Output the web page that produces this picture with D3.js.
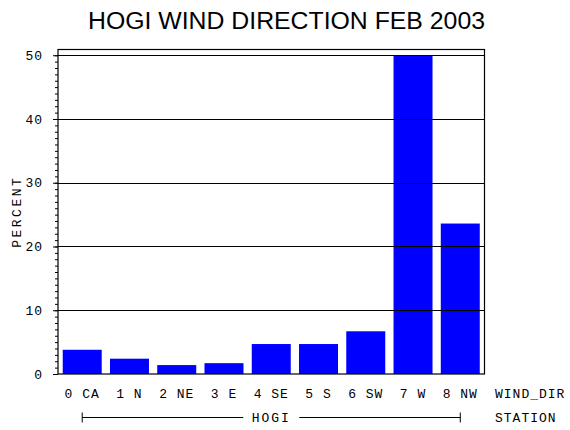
<!DOCTYPE html>
<html>
<head>
<meta charset="utf-8">
<script src="https://cdn.jsdelivr.net/npm/d3@7"></script>
<style>
  body { margin: 0; background: #fff; }
  text { font-family: "Liberation Mono", "DejaVu Sans Mono", monospace; font-size: 13px; fill: #000; }
</style>
</head>
<body>
<div id="chart"></div>
<script>
// data
const directions = ["0 CA", "1 N", "2 NE", "3 E", "4 SE", "5 S", "6 SW", "7 W", "8 NW"];
const percents = [3.8, 2.4, 1.4, 1.7, 4.7, 4.7, 6.7, 50.0, 23.6];
const yTicks = [0, 10, 20, 30, 40, 50];
const minorTicks = d3.range(0, 51, 1);
const station = "HOGI";

const width = 570;
const height = 430;
const plotLeft = 58, plotRight = 484.5, plotTop = 49.5, plotBottom = 374;

const svg = d3.select("#chart").append("svg")
  .attr("width", width)
  .attr("height", height)
  .style("display", "block");

// scales
const x = d3.scaleBand()
  .domain(directions)
  .range([plotLeft, plotRight])
  .paddingInner(0.175)
  .paddingOuter(0.1);

const y = d3.scaleLinear()
  .domain([0, 50.9])
  .range([plotBottom, plotTop]);

// bars
svg.append("g")
  .selectAll("rect")
  .data(percents)
  .enter()
  .append("rect")
  .attr("x", (d, i) => x(directions[i]))
  .attr("width", x.bandwidth())
  .attr("y", d => y(d))
  .attr("height", d => plotBottom - y(d))
  .attr("fill", "#0000ff");

// grid lines, drawn over the bars
svg.append("g")
  .selectAll("line")
  .data(yTicks.filter(d => d > 0))
  .enter()
  .append("line")
  .attr("x1", plotLeft).attr("x2", plotRight)
  .attr("y1", d => Math.round(y(d)) + 0.5)
  .attr("y2", d => Math.round(y(d)) + 0.5)
  .attr("stroke", "#000")
  .attr("stroke-width", 1);

// frame
svg.append("rect")
  .attr("x", plotLeft)
  .attr("y", plotTop)
  .attr("width", plotRight - plotLeft)
  .attr("height", plotBottom - plotTop)
  .attr("fill", "none")
  .attr("stroke", "#000")
  .attr("stroke-width", 1.2);

// y axis, minor ticks then major
svg.append("g")
  .attr("transform", `translate(${plotLeft},0)`)
  .call(d3.axisLeft(y).tickValues(minorTicks).tickSize(3).tickSizeOuter(0).tickFormat(""))
  .call(g => g.select(".domain").remove());

svg.append("g")
  .attr("transform", `translate(${plotLeft},0)`)
  .call(d3.axisLeft(y).tickValues(yTicks).tickSize(5).tickPadding(10).tickSizeOuter(0))
  .call(g => g.select(".domain").remove())
  .call(g => g.selectAll("text")
    .style("font-family", "'Liberation Mono', monospace")
    .style("font-size", "13px")
    .style("letter-spacing", "1px"));

// y title
svg.append("text")
  .attr("transform", `translate(21,${(plotTop + plotBottom) / 2})rotate(-90)`)
  .attr("text-anchor", "middle")
  .style("letter-spacing", "2.5px")
  .text("PERCENT");

// category labels
svg.append("g")
  .selectAll("text")
  .data(directions)
  .enter()
  .append("text")
  .attr("x", d => x(d) + x.bandwidth() / 2)
  .attr("y", 398)
  .attr("text-anchor", "middle")
  .style("letter-spacing", "1px")
  .text(d => d);

svg.append("text")
  .attr("x", 495).attr("y", 398)
  .style("letter-spacing", "1px")
  .text("WIND_DIR");

// station bracket
const x0 = x(directions[0]) + x.bandwidth() / 2;
const x1 = x(directions[directions.length - 1]) + x.bandwidth() / 2;
const mid = (x0 + x1) / 2;
const by = 417.5;
const bracket = svg.append("g").attr("stroke", "#000").attr("stroke-width", 1);
bracket.append("line").attr("x1", x0).attr("x2", mid - 28).attr("y1", by).attr("y2", by);
bracket.append("line").attr("x1", mid + 28).attr("x2", x1).attr("y1", by).attr("y2", by);
bracket.append("line").attr("x1", x0).attr("x2", x0).attr("y1", by - 5).attr("y2", by + 5);
bracket.append("line").attr("x1", x1).attr("x2", x1).attr("y1", by - 5).attr("y2", by + 5);

svg.append("text")
  .attr("x", mid).attr("y", 422)
  .attr("text-anchor", "middle")
  .style("letter-spacing", "2px")
  .text(station);

svg.append("text")
  .attr("x", 495).attr("y", 422)
  .style("letter-spacing", "1px")
  .text("STATION");

// chart title
svg.append("text")
  .attr("x", 88).attr("y", 29)
  .attr("textLength", 397)
  .attr("lengthAdjust", "spacingAndGlyphs")
  .style("font-family", "'Liberation Sans', Arial, sans-serif")
  .style("font-size", "23px")
  .text("HOGI WIND DIRECTION FEB 2003");
</script>
</body>
</html>
